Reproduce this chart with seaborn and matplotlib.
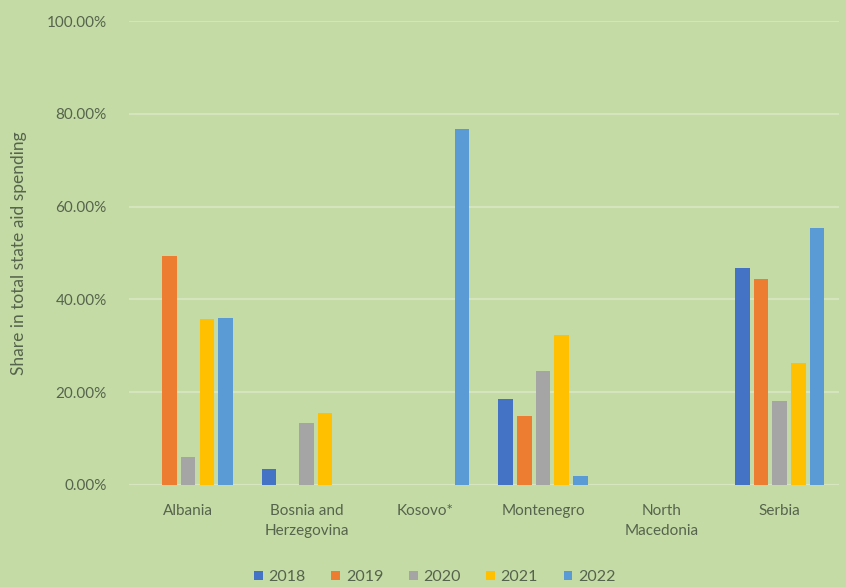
import matplotlib
matplotlib.use("Agg")
import matplotlib.pyplot as plt
import seaborn as sns
import pandas as pd
from matplotlib.ticker import PercentFormatter

countries = ["Albania", "Bosnia and\nHerzegovina", "Kosovo*", "Montenegro",
             "North\nMacedonia", "Serbia"]
years = ["2018", "2019", "2020", "2021", "2022"]

share_2018 = [0.0, 3.4, 0.0, 18.5, 0.0, 46.8]
share_2019 = [49.4, 0.0, 0.0, 14.9, 0.0, 44.4]
share_2020 = [6.0, 13.4, 0.0, 24.6, 0.0, 18.1]
share_2021 = [35.8, 15.5, 0.0, 32.3, 0.0, 26.3]
share_2022 = [36.0, 0.0, 76.7, 1.9, 0.0, 55.4]

colors = ["#4472C4", "#ED7D31", "#A5A5A5", "#FFC000", "#5B9BD5"]

series = [share_2018, share_2019, share_2020, share_2021, share_2022]
rows = []
for year, vals in zip(years, series):
    for c, v in zip(countries, vals):
        rows.append({"country": c, "year": year, "share": v})
df = pd.DataFrame(rows)

bg = "#c5dba6"
text_col = "#55644c"
grid_col = "#d8e8c2"

sns.set_theme(style="white")
plt.rcParams["font.family"] = ["Lato", "DejaVu Sans"]

fig = plt.figure(figsize=(8.46, 5.87), dpi=100, facecolor=bg)
ax = fig.add_axes([0.1525, 0.1738, 0.839, 0.7904])
ax.set_facecolor(bg)

sns.barplot(data=df, x="country", y="share", hue="year", hue_order=years,
            order=countries, palette=colors, width=0.79, gap=0.22,
            saturation=1, ax=ax, edgecolor="none", linewidth=0)

ax.set_ylim(0, 100)
ax.set_yticks([0, 20, 40, 60, 80, 100])
ax.yaxis.set_major_formatter(PercentFormatter(decimals=2))
ax.grid(axis="y", color=grid_col, linewidth=1.2)
ax.set_axisbelow(True)
for s in ax.spines.values():
    s.set_visible(False)
ax.axhline(0, color="#d6e4c4", linewidth=1.2, zorder=0.5)

ax.tick_params(axis="both", length=0, labelsize=11, colors=text_col)
ax.tick_params(axis="y", pad=16)
ax.tick_params(axis="x", pad=14)
for lab in ax.get_xticklabels():
    lab.set_linespacing(1.5)
ax.set_xlabel("")
ax.set_ylabel("Share in total state aid spending", fontsize=12.5,
              color=text_col, labelpad=14)

handles, labels = ax.get_legend_handles_labels()
ax.legend_.remove()
leg = fig.legend(handles, labels, loc="center", bbox_to_anchor=(0.514, 0.017),
                 ncol=5, frameon=False, handlelength=0.55, handleheight=0.55,
                 handletextpad=0.35, columnspacing=1.6, fontsize=11.5)
for t in leg.get_texts():
    t.set_color(text_col)

fig.savefig("out.png", dpi=100, facecolor=bg)
